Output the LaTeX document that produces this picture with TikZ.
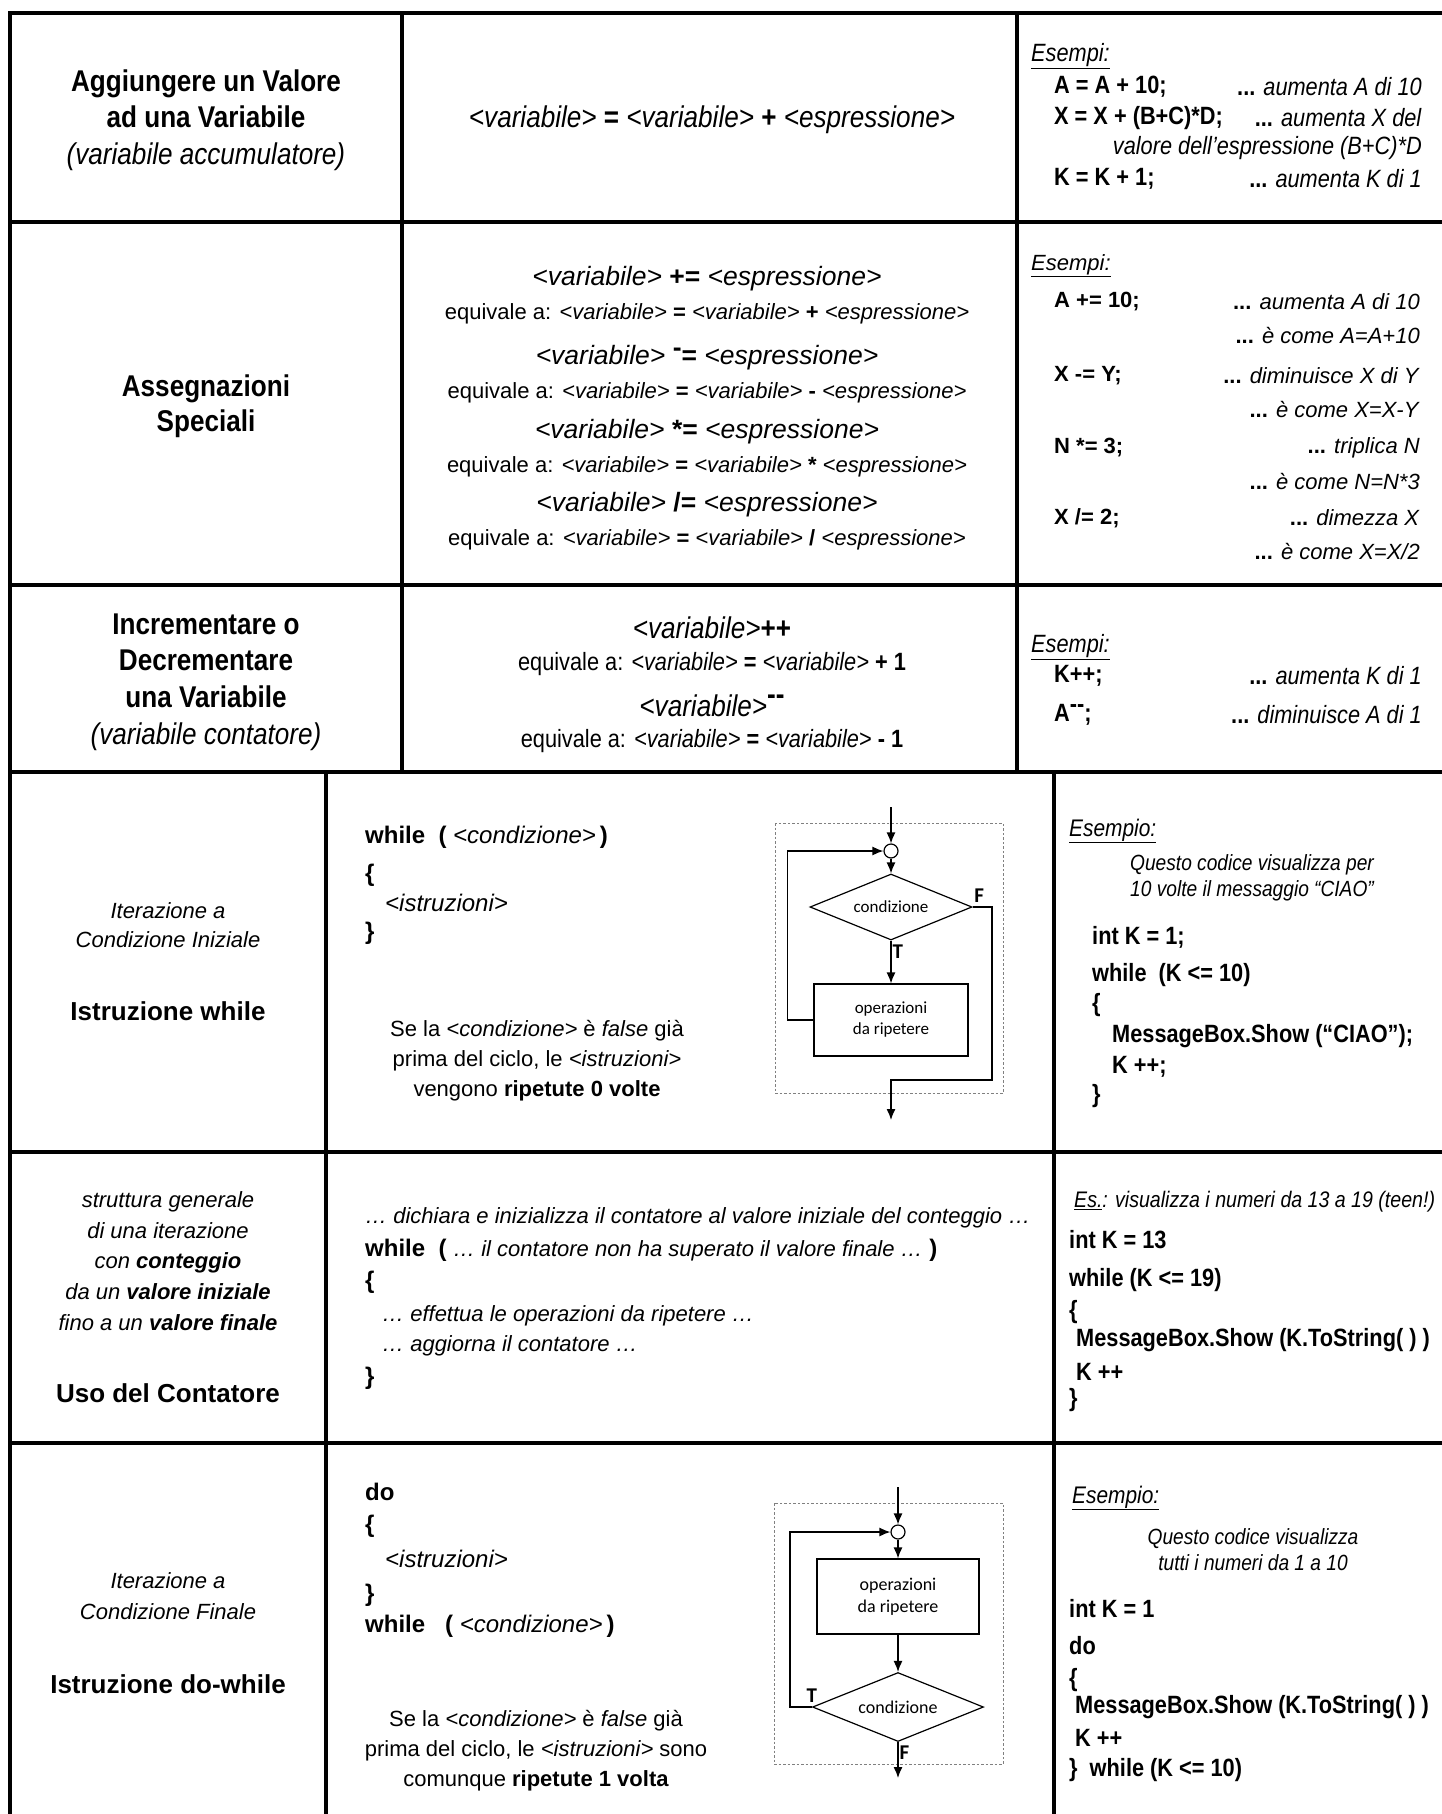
\documentclass[tikz,border=0pt]{standalone}
\usepackage{fontspec}
\setmainfont{Liberation Sans}
\newfontfamily\nrw{Liberation Sans}[FakeStretch=0.87]
\newfontfamily\carl{Carlito}
\usetikzlibrary{shapes.geometric,arrows.meta}
\newcommand\fsz[2]{\fontsize{#1}{#2}\selectfont}

\begin{document}
\begin{tikzpicture}[x=1pt,y=-1pt,>={Latex[length=11pt,width=9pt]},
  rule/.style={line width=3.5pt,line cap=rect},
  txt/.style={inner sep=0pt,align=center},
  lft/.style={inner sep=0pt,anchor=west,align=left},
  rgt/.style={inner sep=0pt,anchor=east,align=right},
  opsbox/.style={draw,line width=1.2pt,inner sep=0pt,align=center,font=\carl\fsz{17}{21}},
  testbox/.style={diamond,draw,line width=1.2pt,aspect=2.5,inner sep=0pt,font=\carl\fsz{17}{21}},
  junc/.style={circle,draw,line width=1.2pt,minimum size=14pt,inner sep=0pt},
  flow/.style={->,line width=1.3pt},
  frame/.style={draw=gray,dashed,line width=0.8pt,dash pattern=on 2.5pt off 2pt},
  tf/.style={inner sep=1pt,font=\carl\bfseries\fsz{21}{24}}]

        \useasboundingbox (0,0) rectangle (1442,1814);
        \fill[white] (0,0) rectangle (1442,1814);

        % draw the table rules
        \foreach \yy in {13,222,585,772,1152,1443}
                \draw[rule] (10,\yy) -- (1442,\yy);
        \draw[rule] (10,13) -- (10,1814);
        \foreach \xx in {402,1017}
                \draw[rule] (\xx,13) -- (\xx,772);
        \foreach \xx in {326,1054}
                \draw[rule] (\xx,772) -- (\xx,1814);

        % row 1: accumulatore
        \node[txt,font=\nrw\bfseries\fsz{30}{36.5}] (accT) at (206,120)
                {Aggiungere un Valore\\ad una Variabile\\{\mdseries\itshape (variabile accumulatore)}};
        \node[txt,font=\nrw\fsz{30}{36}] (accS) at (712,120)
                {\textit{<variabile>} \textbf{=} \textit{<variabile>} \textbf{+} \textit{<espressione>}};
        \begin{scope}[font=\nrw\fsz{25}{30}]
                \node[lft] (accE) at (1031,56) {\textit{\underline{Esempi:}}};
                \foreach \yy/\cd/\ds [count=\i] in {87/{A = A + 10;}/{aumenta A di 10},
                        118/{X = X + (B+C)*D;}/{aumenta X del},179/{K = K + 1;}/{aumenta K di 1}}
                {
                        \node[lft] (acc\i) at (1054,\yy) {\textbf{\cd}};
                        \node[rgt] (accD\i) at (1422,\yy) {\textbf{...} \textit{\ds}};
                }
                \node[rgt] (accV) at (1422,148) {\textit{valore dell’espressione (B+C)*D}};
        \end{scope}

        % row 2: assegnazioni speciali
        \node[txt,font=\nrw\bfseries\fsz{30}{35}] (spcT) at (206,406) {Assegnazioni\\Speciali};
        \foreach \yy/\op/\sy [count=\i] in {279/{+=}/{+},358/{\raisebox{.3em}{-}=}/{-},
                432/{*=}/{*},505/{/=}/{/}}
        {
                \node[txt,font=\fsz{26.5}{30}] (spcS\i) at (707,\yy)
                        {\textit{<variabile>} \textbf{\op} \textit{<espressione>}};
                \node[txt,font=\fsz{22}{26}] (spcQ\i) at (707,\yy+35)
                        {equivale a: \textit{<variabile>} \textbf{=} \textit{<variabile>} \textbf{\sy} \textit{<espressione>}};
        }
        \begin{scope}[font=\fsz{22}{26}]
                \node[lft] (spcE) at (1031,266) {\textit{\underline{Esempi:}}};
                \foreach \yy/\cd/\ds/\eq [count=\i] in {302/{A += 10;}/{aumenta A di 10}/{A=A+10},
                        376/{X -= Y;}/{diminuisce X di Y}/{X=X-Y},448/{N *= 3;}/{triplica N}/{N=N*3},
                        518/{X /= 2;}/{dimezza X}/{X=X/2}}
                {
                        \node[lft] (spc\i) at (1054,\yy) {\textbf{\cd}};
                        \node[rgt] (spcD\i) at (1420,\yy) {\textbf{...} \textit{\ds}};
                        \node[rgt] (spcC\i) at (1420,\yy+34) {\textbf{...} \textit{è come \eq}};
                }
        \end{scope}

        % row 3: contatore
        \node[txt,font=\nrw\bfseries\fsz{30}{36.7}] (cntT) at (206,682)
                {Incrementare o\\Decrementare\\una Variabile\\{\mdseries\itshape (variabile contatore)}};
        \node[txt,font=\nrw\fsz{30}{36}] (cntS1) at (712,628) {\textit{<variabile>}\textbf{++}};
        \node[txt,font=\nrw\fsz{25}{30}] (cntQ1) at (712,664)
                {equivale a: \textit{<variabile>} \textbf{=} \textit{<variabile>} \textbf{+ 1}};
        \node[txt,font=\nrw\fsz{30}{36}] (cntS2) at (712,706)
                {\textit{<variabile>}\textbf{\raisebox{.4em}{-{}-}}};
        \node[txt,font=\nrw\fsz{25}{30}] (cntQ2) at (712,741)
                {equivale a: \textit{<variabile>} \textbf{=} \textit{<variabile>} \textbf{- 1}};
        \begin{scope}[font=\nrw\fsz{25}{30}]
                \node[lft] (cntE) at (1031,647) {\textit{\underline{Esempi:}}};
                \node[lft] (cnt1) at (1054,676) {\textbf{K++;}};
                \node[lft] (cnt2) at (1054,715) {\textbf{A\raisebox{.35em}{-{}-};}};
                \node[rgt] (cntD1) at (1422,676) {\textbf{...} \textit{aumenta K di 1}};
                \node[rgt] (cntD2) at (1422,715) {\textbf{...} \textit{diminuisce A di 1}};
        \end{scope}

        % row 4: while
        \node[txt,font=\itshape\fsz{22}{29}] (whlT) at (168,925) {Iterazione a\\Condizione Iniziale};
        \node[txt,font=\bfseries\fsz{26}{30}] (whlN) at (168,1011) {Istruzione while};
        \begin{scope}[font=\fsz{24}{28}]
                \node[lft] (whl1) at (365,837) {\textbf{while~~(} \textit{<condizione>}\,\textbf{)}};
                \node[lft] (whl2) at (365,875) {\textbf{\{}};
                \node[lft] (whl3) at (385,903) {\textit{<istruzioni>}};
                \node[lft] (whl4) at (365,933) {\textbf{\}}};
        \end{scope}
        \node[txt,font=\fsz{22}{30}] (whlP) at (537,1061)
                {Se la \textit{<condizione>} è \textit{false} già\\prima del ciclo, le \textit{<istruzioni>}\\vengono \textbf{ripetute 0 volte}};

        % flow chart of the while
        \draw[frame] (775,823) rectangle (1003,1093);
        \coordinate (wIn) at (891,807);
        \node[junc] (wJn) at (891,851) {};
        \node[testbox,minimum width=162pt,minimum height=66pt] (wTst) at (891,907) {condizione};
        \node[opsbox,minimum width=154pt,minimum height=72pt] (wOps) at (891,1020) {operazioni\\da ripetere};
        \coordinate (wOut) at (891,1120);
        \draw[flow] (wIn) -- (wJn);
        \draw[flow] (wJn) -- (wTst);
        \draw[flow] (wTst) -- node[tf,right,pos=0.25] {T} (wOps);
        \draw[flow] (wOps.west) -- ++(-26,0) |- (wJn);
        \draw[flow] (wTst.east) node[tf,anchor=south west,yshift=3pt] {F} -| (992,1080) -- (891,1080) -- (wOut);

        \begin{scope}[font=\nrw\fsz{22}{26}]
                \node[lft,font=\nrw\fsz{24}{28}] (whlE) at (1069,831) {\textit{\underline{Esempio:}}};
                \node[lft] (whlI) at (1130,878) {\textit{Questo codice visualizza per}\\\textit{10 volte il messaggio “CIAO”}};
        \end{scope}
        \begin{scope}[font=\nrw\bfseries\fsz{25}{30}]
                \node[lft] (whlC1) at (1092,937) {int K = 1;};
                \node[lft] (whlC2) at (1092,975) {while~~(K <= 10)};
                \node[lft] (whlC3) at (1092,1005) {\{};
                \node[lft] (whlC4) at (1112,1036) {MessageBox.Show (“CIAO”);};
                \node[lft] (whlC5) at (1112,1067) {K ++;};
                \node[lft] (whlC6) at (1092,1096) {\}};
        \end{scope}

        % row 5: contatore
        \node[txt,font=\itshape\fsz{22}{30.8}] (ctrT) at (168,1261)
                {struttura generale\\di una iterazione\\con \textbf{conteggio}\\da un \textbf{valore iniziale}\\fino a un \textbf{valore finale}};
        \node[txt,font=\bfseries\fsz{26}{30}] (ctrN) at (168,1393) {Uso del Contatore};
        \begin{scope}[font=\fsz{22}{28}]
                \node[lft] (ctr1) at (365,1218) {\textit{… dichiara e inizializza il contatore al valore iniziale del conteggio …}};
                \node[lft,font=\fsz{24}{28}] (ctr2) at (365,1250)
                        {\textbf{while~~(} {\fsz{22}{28}\textit{… il contatore non ha superato il valore finale …}} \textbf{)}};
                \node[lft,font=\bfseries\fsz{24}{28}] (ctr3) at (365,1282) {\{};
                \node[lft] (ctr4) at (382,1316) {\textit{… effettua le operazioni da ripetere …}};
                \node[lft] (ctr5) at (382,1346) {\textit{… aggiorna il contatore …}};
                \node[lft,font=\bfseries\fsz{24}{28}] (ctr6) at (365,1378) {\}};
        \end{scope}
        \node[lft,font=\nrw\fsz{22.5}{26}] (ctrE) at (1074,1202)
                {\textit{\underline{Es.}: visualizza i numeri da 13 a 19 (teen!)}};
        \begin{scope}[font=\nrw\bfseries\fsz{25}{30}]
                \node[lft] (ctrC1) at (1069,1240) {int K = 13};
                \node[lft] (ctrC2) at (1069,1280) {while (K <= 19)};
                \node[lft] (ctrC3) at (1069,1312) {\{};
                \node[lft] (ctrC4) at (1076,1340) {MessageBox.Show (K.ToString( ) )};
                \node[lft] (ctrC5) at (1076,1372) {K ++};
                \node[lft] (ctrC6) at (1069,1400) {\}};
        \end{scope}

        % row 6: do-while
        \node[txt,font=\itshape\fsz{22}{31}] (dwhT) at (168,1596) {Iterazione a\\Condizione Finale};
        \node[txt,font=\bfseries\fsz{26}{30}] (dwhN) at (168,1684) {Istruzione do-while};
        \begin{scope}[font=\fsz{24}{28}]
                \node[lft] (dwh1) at (365,1492) {\textbf{do}};
                \node[lft] (dwh2) at (365,1526) {\textbf{\{}};
                \node[lft] (dwh3) at (385,1559) {\textit{<istruzioni>}};
                \node[lft] (dwh4) at (365,1595) {\textbf{\}}};
                \node[lft] (dwh5) at (365,1626) {\textbf{while~~~(} \textit{<condizione>}\,\textbf{)}};
        \end{scope}
        \node[txt,font=\fsz{22}{30}] (dwhP) at (536,1751)
                {Se la \textit{<condizione>} è \textit{false} già\\prima del ciclo, le \textit{<istruzioni>} sono\\comunque \textbf{ripetute 1 volta}};

        % flow chart of the do-while
        \draw[frame] (774,1503) rectangle (1003,1764);
        \coordinate (dIn) at (898,1487);
        \node[junc] (dJn) at (898,1532) {};
        \node[opsbox,minimum width=162pt,minimum height=75pt,font=\carl\fsz{18}{22}] (dOps) at (898,1596.5) {operazioni\\da ripetere};
        \node[testbox,minimum width=171pt,minimum height=69pt,font=\carl\fsz{18}{22}] (dTst) at (898,1707) {condizione};
        \coordinate (dOut) at (898,1778);
        \draw[flow] (dIn) -- (dJn);
        \draw[flow] (dJn) -- (dOps);
        \draw[flow] (dOps) -- (dTst);
        \draw[flow] (dTst.west) node[tf,above=3pt] {T} -- ++(-22,0) |- (dJn);
        \draw[flow] (dTst) -- node[tf,right,pos=0.3] {F} (dOut);

        \begin{scope}[font=\nrw\fsz{22}{26}]
                \node[lft,font=\nrw\fsz{24}{28}] (dwhE) at (1072,1498) {\textit{\underline{Esempio:}}};
                \node[txt] (dwhI) at (1253,1550) {\textit{Questo codice visualizza}\\\textit{tutti i numeri da 1 a 10}};
        \end{scope}
        \begin{scope}[font=\nrw\bfseries\fsz{25}{30}]
                \node[lft] (dwhC1) at (1069,1609) {int K = 1};
                \node[lft] (dwhC2) at (1069,1646) {do};
                \node[lft] (dwhC3) at (1069,1680) {\{};
                \node[lft] (dwhC4) at (1075,1707) {MessageBox.Show (K.ToString( ) )};
                \node[lft] (dwhC5) at (1075,1738) {K ++};
                \node[lft] (dwhC6) at (1069,1770) {\}~ while (K <= 10)};
        \end{scope}

\end{tikzpicture}
\end{document}
